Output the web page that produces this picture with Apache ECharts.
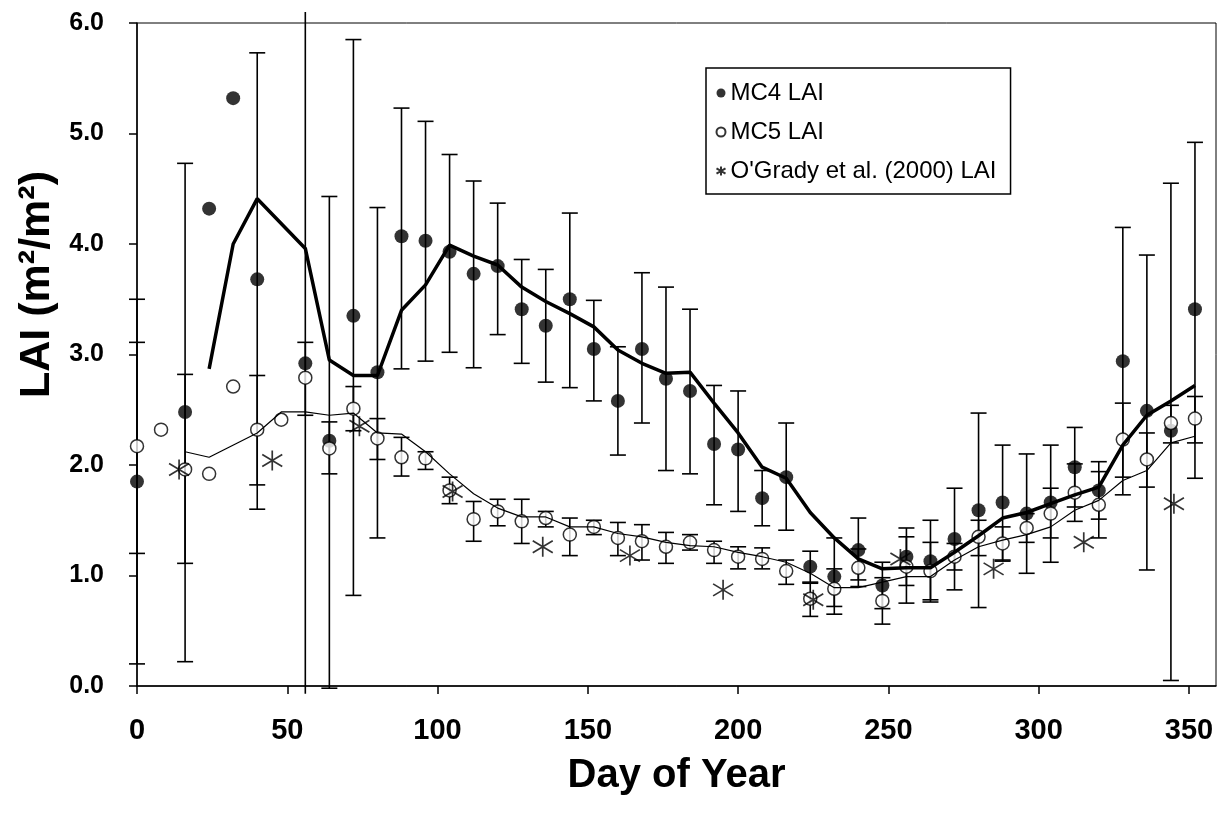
<!DOCTYPE html>
<html>
<head>
<meta charset="utf-8">
<script src="https://cdn.jsdelivr.net/npm/echarts@6/dist/echarts.min.js"></script>
<style>
html, body { margin: 0; padding: 0; background: #fff; }
#chart { width: 1219px; height: 822px; }
</style>
</head>
<body>
<div id="chart"></div>
<script>
// 8-day composite days
var days = [0, 8, 16, 24, 32, 40, 48, 56, 64, 72, 80, 88, 96, 104, 112, 120, 128, 136, 144, 152, 160, 168, 176, 184,
	192, 200, 208, 216, 224, 232, 240, 248, 256, 264, 272, 280, 288, 296, 304, 312, 320, 328, 336, 344, 352];

// MC4 LAI (filled dots) with error bar limits
var mc4 = [1.85, null, 2.48, 4.32, 5.32, 3.68, null, 2.92, 2.22, 3.35, 2.84, 4.07, 4.03, 3.93, 3.73, 3.80, 3.41, 3.26, 3.50, 3.05, 2.58, 3.05, 2.78, 2.67,
	2.19, 2.14, 1.70, 1.89, 1.08, 0.99, 1.23, 0.91, 1.17, 1.13, 1.33, 1.59, 1.66, 1.56, 1.66, 1.98, 1.77, 2.94, 2.49, 2.31, 3.41];
var mc4Low = [0.20, null, 0.22, null, null, 1.60, null, -0.07, -0.02, 0.82, 1.34, 2.87, 2.94, 3.02, 2.88, 3.18, 2.92, 2.75, 2.70, 2.58, 2.09, 2.38, 1.95, 1.92,
	1.64, 1.58, 1.45, 1.41, 0.94, 0.65, 0.96, 0.70, 0.91, 0.76, 0.87, 0.71, 1.13, 1.02, 1.12, 1.62, 1.51, 1.73, 1.05, 0.05, 1.88];
var mc4High = [3.50, null, 4.73, null, null, 5.73, null, 6.10, 4.43, 5.85, 4.33, 5.23, 5.11, 4.81, 4.57, 4.37, 3.86, 3.77, 4.28, 3.49, 3.07, 3.74, 3.61, 3.41,
	2.72, 2.67, 1.95, 2.38, 1.22, 1.34, 1.52, 1.12, 1.43, 1.50, 1.79, 2.47, 2.18, 2.10, 2.18, 2.34, 2.03, 4.15, 3.90, 4.55, 4.92];
// MC4 smoothed line
var mc4Avg = [null, null, null, 2.87, 4.00, 4.41, null, 3.96, 2.95, 2.81, 2.81, 3.40, 3.63, 3.99, 3.89, 3.81, 3.61, 3.48, 3.37, 3.25, 3.04, 2.92, 2.83, 2.84,
	2.56, 2.29, 1.98, 1.88, 1.57, 1.34, 1.15, 1.06, 1.07, 1.07, 1.21, 1.36, 1.52, 1.57, 1.65, 1.73, 1.80, 2.18, 2.45, 2.58, 2.72];

// MC5 LAI (open dots) with error bar limits
var mc5 = [2.17, 2.32, 1.96, 1.92, 2.71, 2.32, 2.41, 2.79, 2.15, 2.51, 2.24, 2.07, 2.06, 1.77, 1.51, 1.58, 1.49, 1.52, 1.37, 1.44, 1.34, 1.31, 1.26, 1.30,
	1.23, 1.17, 1.15, 1.04, 0.79, 0.88, 1.07, 0.77, 1.08, 1.04, 1.17, 1.35, 1.29, 1.43, 1.56, 1.75, 1.64, 2.23, 2.05, 2.38, 2.42];
var mc5Low = [1.20, null, 1.11, null, null, 1.82, null, 2.45, 1.92, 2.31, 2.05, 1.90, 1.96, 1.65, 1.31, 1.45, 1.29, 1.44, 1.18, 1.37, 1.18, 1.14, 1.11, 1.23,
	1.11, 1.06, 1.06, 0.92, 0.63, 0.72, 0.90, 0.56, 0.75, 0.78, 1.05, 1.18, 1.14, 1.30, 1.34, 1.49, 1.34, 1.89, 1.80, 2.20, 2.20];
var mc5High = [3.11, null, 2.82, null, null, 2.81, null, 3.11, 2.39, 2.71, 2.42, 2.25, 2.12, 1.89, 1.67, 1.69, 1.69, 1.58, 1.52, 1.50, 1.48, 1.46, 1.39, 1.37,
	1.31, 1.26, 1.25, 1.14, 0.93, 1.06, 1.24, 0.98, 1.35, 1.30, 1.29, 1.50, 1.44, 1.56, 1.79, 2.01, 1.94, 2.56, 2.29, 2.54, 2.62];
// MC5 smoothed line
var mc5Avg = [null, null, 2.12, 2.07, null, 2.29, 2.48, 2.48, 2.45, 2.47, 2.29, 2.28, 2.12, 1.92, 1.74, 1.61, 1.53, 1.53, 1.44, 1.44, 1.38, 1.35, 1.30, 1.27,
	1.26, 1.21, 1.17, 1.12, 1.02, 0.89, 0.89, 0.94, 0.99, 0.99, 1.14, 1.26, 1.32, 1.37, 1.44, 1.59, 1.68, 1.86, 1.95, 2.20, 2.26];

// O'Grady et al. (2000)
var ogDays = [14, 45, 74, 105, 135, 164, 195, 225, 254, 285, 315, 345];
var ogLai = [1.96, 2.04, 2.35, 1.76, 1.26, 1.18, 0.87, 0.78, 1.15, 1.06, 1.30, 1.65];

var xTicks = [0, 50, 100, 150, 200, 250, 300, 350];

function pairs(xs, ys) {
	var out = [];
	for (var i = 0; i < xs.length; i++) {
		if (ys[i] != null) out.push([xs[i], ys[i]]);
	}
	return out;
}
function bars(xs, lo, hi) {
	var out = [];
	for (var i = 0; i < xs.length; i++) {
		if (lo[i] != null && hi[i] != null) out.push([xs[i], lo[i], hi[i]]);
	}
	return out;
}
function renderBar(params, api) {
	var x = api.value(0), lo = api.value(1), hi = api.value(2);
	var top = api.coord([x, hi]), bot = api.coord([x, lo]);
	var st = { stroke: '#000', lineWidth: 1.6 };
	var kids = [{ type: 'line', shape: { x1: top[0], y1: top[1], x2: bot[0], y2: bot[1] }, style: st }];
	if (hi <= 6) kids.push({ type: 'line', shape: { x1: top[0] - 8, y1: top[1], x2: top[0] + 8, y2: top[1] }, style: st });
	if (lo >= -0.05) kids.push({ type: 'line', shape: { x1: bot[0] - 8, y1: bot[1], x2: bot[0] + 8, y2: bot[1] }, style: st });
	return { type: 'group', children: kids };
}

var starPath = 'path://M0,-10L0,10M-10,-6L10,6M-10,6L10,-6';
var font = 'Liberation Sans, Arial, sans-serif';

var chart = echarts.init(document.getElementById('chart'));
var option = {
	animation: false,
	backgroundColor: '#fff',
	grid: { left: 137, right: 3, top: 23, bottom: 136, show: true, borderColor: '#000', borderWidth: 1 },
	legend: {
		orient: 'vertical',
		left: 706,
		top: 68,
		padding: [13, 14, 11, 8],
		itemGap: 15,
		itemWidth: 9,
		itemHeight: 9,
		borderColor: '#000',
		borderWidth: 1.5,
		textStyle: { fontFamily: font, fontSize: 24, color: '#000' },
		data: ['MC4 LAI', 'MC5 LAI', "O'Grady et al. (2000) LAI"]
	},
	xAxis: {
		type: 'value',
		min: 0,
		max: 359,
		interval: 50,
		name: 'Day of Year',
		nameLocation: 'middle',
		nameGap: 70,
		nameTextStyle: { fontFamily: font, fontSize: 40, fontWeight: 'bold', color: '#000' },
		axisLine: { lineStyle: { color: '#000', width: 1.5 } },
		axisTick: { show: true, length: 8, customValues: xTicks, lineStyle: { color: '#000', width: 1.5 } },
		axisLabel: {
			customValues: xTicks,
			margin: 30,
			fontFamily: font, fontSize: 29, fontWeight: 'bold', color: '#000',
			formatter: function (v) { return v % 50 === 0 ? String(v) : ''; }
		},
		splitLine: { show: false }
	},
	yAxis: {
		type: 'value',
		min: 0,
		max: 6,
		interval: 1,
		name: 'LAI (m²/m²)',
		nameLocation: 'middle',
		nameRotate: 90,
		nameGap: 70,
		nameTextStyle: { fontFamily: font, fontSize: 43, fontWeight: 'bold', color: '#000', padding: [0, 0, 0, 140] },
		axisLine: { show: true, lineStyle: { color: '#000', width: 1.5 } },
		axisTick: { show: true, length: 8, lineStyle: { color: '#000', width: 1.5 } },
		axisLabel: {
			margin: 33,
			fontFamily: font, fontSize: 25, fontWeight: 'bold', color: '#000',
			formatter: function (v) { return v.toFixed(1); }
		},
		splitLine: { show: false }
	},
	series: [
		{
			name: 'MC4 bars', type: 'custom', renderItem: renderBar, z: 2,
			encode: { x: 0, y: [1, 2] }, data: bars(days, mc4Low, mc4High)
		},
		{
			name: 'MC5 bars', type: 'custom', renderItem: renderBar, z: 2,
			encode: { x: 0, y: [1, 2] }, data: bars(days, mc5Low, mc5High)
		},
		{
			name: 'MC4 LAI', type: 'scatter', symbol: 'circle', symbolSize: 14, z: 4,
			itemStyle: { color: '#000' },
			data: pairs(days, mc4)
		},
		{
			name: 'MC5 LAI', type: 'scatter', symbol: 'circle', symbolSize: 13, z: 4,
			itemStyle: { color: '#fff', borderColor: '#000', borderWidth: 1.5 },
			data: pairs(days, mc5)
		},
		{
			name: "O'Grady et al. (2000) LAI", type: 'scatter', symbol: starPath, symbolSize: 20, z: 5,
			itemStyle: { color: 'none', borderColor: '#000', borderWidth: 1.7 },
			data: pairs(ogDays, ogLai)
		},
		{
			name: 'MC4 mean', type: 'line', showSymbol: false, connectNulls: true, z: 6,
			lineStyle: { color: '#000', width: 3.5 },
			data: pairs(days, mc4Avg)
		},
		{
			name: 'MC5 mean', type: 'line', showSymbol: false, connectNulls: true, z: 6,
			lineStyle: { color: '#000', width: 1.2 },
			data: pairs(days, mc5Avg)
		}
	]
};
chart.setOption(option);
</script>
</body>
</html>
